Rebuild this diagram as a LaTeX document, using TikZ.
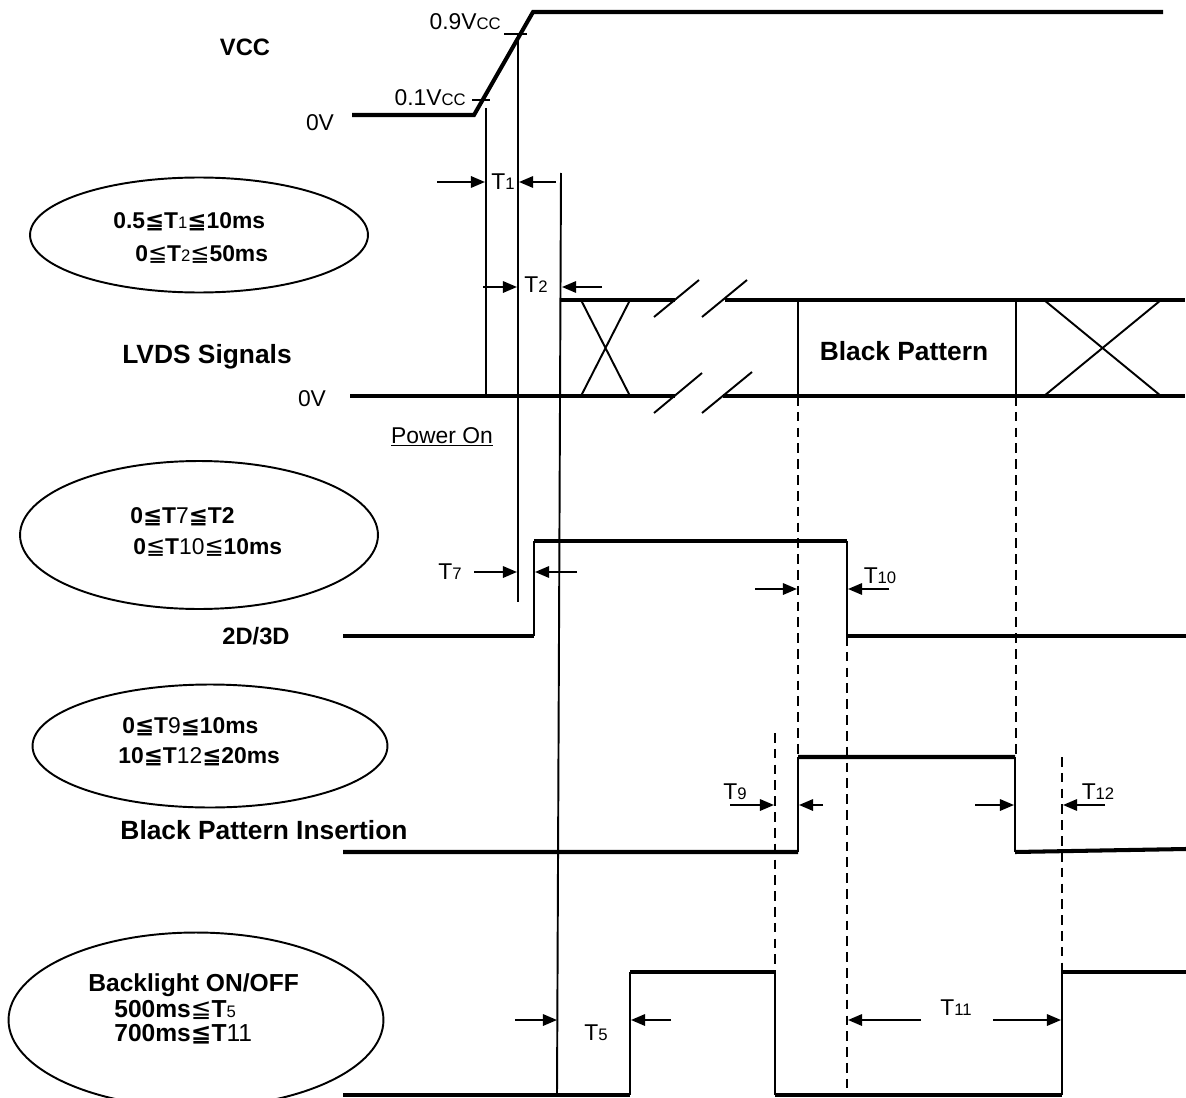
\documentclass[tikz,border=0pt]{standalone}
\usepackage{fontspec}
\setmainfont{Liberation Sans}
\newfontfamily\symfont{DejaVu Sans}
\usetikzlibrary{arrows.meta,shapes.geometric}

\newcommand{\lesym}{{\symfont ≦}}
\newcommand{\lesymlt}{{\symfont\mdseries ≦}}
\newcommand{\lowsub}[1]{{\mdseries\fontsize{9.5}{10}\selectfont #1}}
\newcommand{\rg}[1]{{\mdseries #1}}

\begin{document}
\begin{tikzpicture}[x=0.02cm, y=-0.02cm,
        sig/.style={line width=2.3pt},
        trans/.style={line width=1.1pt},
        dim/.style={line width=1.1pt, -{Triangle[length=8pt,width=6.5pt]}},
        guide/.style={line width=1.1pt, dash pattern=on 5.5pt off 3.5pt},
        cond/.style={draw, ellipse, line width=1.1pt, inner sep=0pt},
        condtxt/.style={anchor=west, inner sep=0pt, font=\bfseries\fontsize{13}{15}\selectfont},
        signame/.style={font=\bfseries\fontsize{15}{18}\selectfont},
        lab/.style={inner sep=0pt, font=\fontsize{13}{15}\selectfont}]
        \useasboundingbox (0,0) rectangle (1186,1098);

        % VCC
        \draw[sig] (352,115) -- (474,115) -- (533,12) -- (1163,12);
        \draw[trans] (504,34) -- (527,34);
        \draw[trans] (472,100) -- (490,100);
        \node[lab, anchor=east] (vhi) at (501,22) {0.9V\lowsub{CC}};
        \node[lab, anchor=east] (vlo) at (466,98) {0.1V\lowsub{CC}};
        \node[lab] (vzero) at (320,123) {0V};
        \node[signame, font=\bfseries\fontsize{13.5}{16}\selectfont] (vcc) at (245,47) {VCC};

        % reference lines
        \draw[trans] (486,108) -- (486,396);
        \draw[trans] (518,35) -- (518,602);
        \draw[trans] (561,173) -- (557,1095);

        % LVDS
        \draw[sig] (350,396) -- (675,396);
        \draw[sig] (561,300) -- (675,300);
        \draw[sig] (725,300) -- (1185,300);
        \draw[sig] (723,396) -- (1185,396);
        \draw[trans] (581,300) -- (630,396) (630,300) -- (581,396);
        \draw[trans] (1044,300) -- (1161,396) (1161,300) -- (1044,396);
        \draw[trans] (654,317) -- (699,280) (702,317) -- (747,280);
        \draw[trans] (654,413) -- (702,373) (702,413) -- (752,372);
        \draw[trans] (798,300) -- (798,396) (1016,300) -- (1016,396);
        \node[signame] (bp) at (904,351) {Black Pattern};
        \node[signame] (lvds) at (207,357) {LVDS Signals};
        \node[lab] (lzero) at (312,399) {0V};
        \node[lab] (pwron) at (442,437) {\underline{Power On}};

        % 2D/3D
        \draw[sig] (343,636) -- (534,636) (534,541) -- (847,541) (847,636) -- (1186,636);
        \draw[trans] (534,636) -- (534,541) (847,541) -- (847,636);
        \node[signame, font=\bfseries\fontsize{13.5}{16}\selectfont] (dim3d) at (256,636) {2D/3D};

        % Black Pattern Insertion
        \draw[sig] (343,852) -- (798,852) (798,757) -- (1015,757) (1015,852) -- (1186,849);
        \draw[trans] (798,852) -- (798,757) (1015,757) -- (1015,852);
        \node[signame] (bpi) at (264,830) {Black Pattern Insertion};

        % Backlight
        \draw[sig] (343,1095) -- (630,1095) (630,972) -- (775,972) (775,1095) -- (1062,1095) (1062,972) -- (1186,972);
        \draw[trans] (630,1095) -- (630,972) (775,972) -- (775,1095) (1062,1095) -- (1062,972);

        % dashed guides
        \draw[guide] (798,396) -- (798,757);
        \draw[guide] (1016,396) -- (1016,757);
        \draw[guide] (847,636) -- (847,1095);
        \draw[guide] (775,733) -- (775,972);
        \draw[guide] (1062,757) -- (1062,972);

        % timing arrows
        \draw[dim] (437,182) -- (485,182);
        \draw[dim] (556,182) -- (519,182);
        \node[lab] (t1) at (503,182) {T\lowsub{1}};
        \draw[dim] (483,287) -- (517,287);
        \draw[dim] (602,287) -- (562,287);
        \node[lab] (t2) at (536,285) {T\lowsub{2}};
        \draw[dim] (474,572) -- (517,572);
        \draw[dim] (577,572) -- (535,572);
        \node[lab] (t7) at (450,572) {T\lowsub{7}};
        \draw[dim] (755,589) -- (797,589);
        \draw[dim] (889,589) -- (848,589);
        \node[lab] (t10) at (880,576) {T\lowsub{10}};
        \draw[dim] (730,805) -- (774,805);
        \draw[dim] (823,805) -- (799,805);
        \node[lab] (t9) at (735,792) {T\lowsub{9}};
        \draw[dim] (975,805) -- (1014,805);
        \draw[dim] (1105,805) -- (1063,805);
        \node[lab] (t12) at (1098,792) {T\lowsub{12}};
        \draw[dim] (515,1020) -- (557,1020);
        \draw[dim] (671,1020) -- (631,1020);
        \node[lab] (t5) at (596,1033) {T\lowsub{5}};
        \draw[dim] (921,1020) -- (848,1020);
        \draw[dim] (993,1020) -- (1061,1020);
        \node[lab] (t11) at (956,1008) {T\lowsub{11}};

        % condition ellipses
        \node[cond, minimum width=6.76cm, minimum height=2.3cm] (pwrbox) at (199,235) {};
        \node[condtxt] (pwra) at (113,222) {0.5\lesym T\lowsub{1}\lesym 10ms};
        \node[condtxt] (pwrb) at (135,254) {0\lesymlt T\lowsub{2}\lesymlt 50ms};
        \node[cond, minimum width=7.16cm, minimum height=2.96cm] (dimbox) at (199,535) {};
        \node[condtxt] (dima) at (130,517) {0\lesym T\rg{7}\lesym T2};
        \node[condtxt] (dimb) at (133,547) {0\lesymlt T\rg{10}\lesymlt 10ms};
        \node[cond, minimum width=7.1cm, minimum height=2.46cm] (bpibox) at (210,746) {};
        \node[condtxt] (bpia) at (122,727) {0\lesym T\rg{9}\lesym 10ms};
        \node[condtxt] (bpib) at (118,757) {10\lesym T\rg{12}\lesym 20ms};
        \node[cond, minimum width=7.5cm, minimum height=3.5cm] (blbox) at (196,1020) {};
        \node[condtxt, font=\bfseries\fontsize{14}{16}\selectfont] (bla) at (88,985) {Backlight ON/OFF};
        \node[condtxt, font=\bfseries\fontsize{14}{16}\selectfont] (blb) at (114,1010) {500ms\lesymlt T\lowsub{5}};
        \node[condtxt, font=\bfseries\fontsize{14}{16}\selectfont] (blc) at (114,1034) {700ms\lesym T\rg{11}};
\end{tikzpicture}
\end{document}
